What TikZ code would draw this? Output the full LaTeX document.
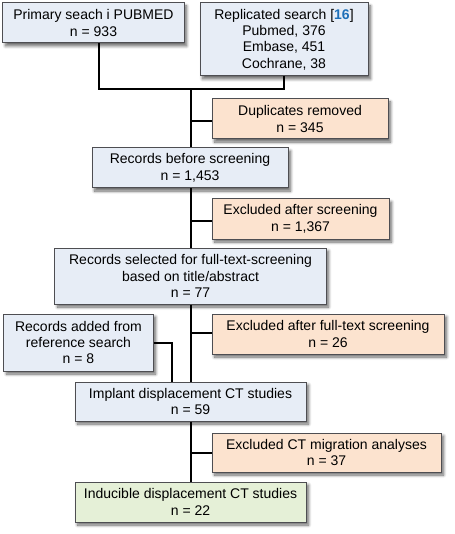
\documentclass[tikz,border=0pt]{standalone}
\usepackage{fontspec}
\setmainfont{Liberation Sans}
\usetikzlibrary{shadows.blur}
\definecolor{bluebox}{HTML}{E7EDF6}
\definecolor{orangebox}{HTML}{FCE3CF}
\definecolor{greenbox}{HTML}{E5F0D7}
\definecolor{boxline}{HTML}{4E4E52}
\definecolor{refblue}{HTML}{1D6FB8}
\tikzset{
  box/.style={draw=boxline, line width=1bp, align=center, inner sep=0pt,
    font=\fontsize{14bp}{16.4bp}\selectfont,
    blur shadow={shadow xshift=2.5bp, shadow yshift=-3bp, shadow blur steps=8, shadow blur radius=3bp, shadow opacity=60}},
  bluenode/.style={box, fill=bluebox},
  orangenode/.style={box, fill=orangebox},
  greennode/.style={box, fill=greenbox},
  conn/.style={line width=2bp, black},
}
\begin{document}
\begin{tikzpicture}[x=1bp, y=-1bp]
\useasboundingbox (0,0) rectangle (455,534);
\node[bluenode, minimum width=181bp, minimum height=40bp] (prim) at (93.5,23) {Primary seach i PUBMED\\n = 933};
\node[bluenode, minimum width=168bp, minimum height=73bp] (repl) at (284,39.5) {Replicated search [\textcolor{refblue}{\textbf{16}}]\\Pubmed, 376\\Embase, 451\\Cochrane, 38};
\node[orangenode, minimum width=176bp, minimum height=40bp] (dup) at (300,119) {Duplicates removed\\n = 345};
\node[bluenode, minimum width=196bp, minimum height=40bp] (rbs) at (190,168) {Records before screening\\n = 1,453};
\node[orangenode, minimum width=177bp, minimum height=40bp] (exs) at (300.5,219) {Excluded after screening\\n = 1,367};
\node[bluenode, minimum width=271bp, minimum height=56bp] (rsel) at (190.5,276) {Records selected for full-text-screening\\based on title/abstract\\n = 77};
\node[orangenode, minimum width=232bp, minimum height=40bp] (exf) at (328,334) {Excluded after full-text screening\\n = 26};
\node[bluenode, minimum width=149bp, minimum height=57bp] (radd) at (78.5,342.5) {Records added from\\reference search\\n = 8};
\node[bluenode, minimum width=231bp, minimum height=39bp] (impl) at (190.5,401.5) {Implant displacement CT studies\\n = 59};
\node[orangenode, minimum width=229bp, minimum height=39bp] (exct) at (326.5,452.5) {Excluded CT migration analyses\\n = 37};
\node[greennode, minimum width=231bp, minimum height=40bp] (ind) at (190.5,502) {Inducible displacement CT studies\\n = 22};

\coordinate (cprim) at (99,0);
\coordinate (trunk) at (191,0);
\coordinate (jn) at (191,89);
\coordinate (ja) at (172,343);
\coordinate (tA) at (191,121);
\coordinate (tB) at (191,221);
\coordinate (tC) at (191,333);
\coordinate (tD) at (191,453);

\draw[conn] (prim.south -| cprim) |- (jn) -| (repl.south);
\draw[conn] (jn) -- (rbs.north -| trunk);
\draw[conn] (tA) -- (dup.west |- tA);
\draw[conn] (rbs.south -| trunk) -- (rsel.north -| trunk);
\draw[conn] (tB) -- (exs.west |- tB);
\draw[conn] (rsel.south -| trunk) -- (impl.north -| trunk);
\draw[conn] (tC) -- (exf.west |- tC);
\draw[conn] (radd.east |- ja) -| (impl.north -| ja);
\draw[conn] (impl.south -| trunk) -- (ind.north -| trunk);
\draw[conn] (tD) -- (exct.west |- tD);
\end{tikzpicture}
\end{document}
